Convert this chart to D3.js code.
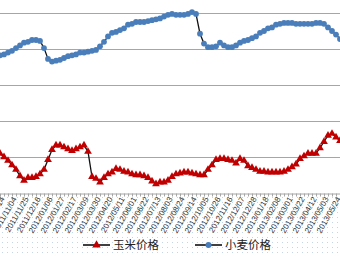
<!DOCTYPE html>
<html>
<head>
<meta charset="utf-8">
<script src="https://cdn.jsdelivr.net/npm/d3@7"></script>
<style>
  body { margin: 0; background: #fff; }
  svg { display: block; }
</style>
</head>
<body>
<div id="chart"></div>
<script>
const width = 340, height = 278;

// 小麦价格 (weekly)
const wheat = [2165, 2170, 2180, 2190, 2205, 2220, 2235, 2240, 2250, 2250, 2245, 2205, 2145, 2130, 2135, 2140,
  2150, 2160, 2165, 2170, 2180, 2180, 2185, 2190, 2195, 2215, 2240, 2270, 2290, 2295, 2305, 2315,
  2335, 2340, 2350, 2350, 2350, 2355, 2360, 2365, 2370, 2380, 2390, 2395, 2390, 2390, 2390, 2395,
  2405, 2395, 2285, 2230, 2210, 2210, 2215, 2235, 2220, 2210, 2210, 2220, 2235, 2245, 2250, 2260,
  2270, 2290, 2300, 2315, 2320, 2335, 2340, 2345, 2345, 2345, 2340, 2340, 2340, 2340, 2340, 2345,
  2345, 2340, 2320, 2300, 2280, 2255];

// 玉米价格 (weekly)
const corn = [1620, 1600, 1580, 1555, 1530, 1495, 1470, 1485, 1485, 1490, 1505, 1530, 1585, 1640, 1665, 1665,
  1655, 1645, 1635, 1645, 1655, 1665, 1630, 1490, 1480, 1460, 1485, 1505, 1515, 1535, 1530, 1520,
  1515, 1505, 1500, 1500, 1495, 1485, 1465, 1450, 1460, 1460, 1470, 1490, 1505, 1510, 1515, 1515,
  1510, 1505, 1500, 1500, 1530, 1555, 1585, 1590, 1590, 1585, 1580, 1565, 1590, 1580, 1550, 1540,
  1530, 1520, 1520, 1515, 1515, 1515, 1515, 1520, 1530, 1545, 1560, 1590, 1605, 1620, 1620, 1620,
  1650, 1685, 1720, 1730, 1710, 1690];

// x-axis labels, one every 3 weeks
const tickLabels = ['2011/10/14', '2011/11/04', '2011/11/25', '2011/12/16', '2012/01/06', '2012/01/27',
  '2012/02/17', '2012/03/09', '2012/03/30', '2012/04/20', '2012/05/11', '2012/06/01', '2012/06/22',
  '2012/07/13', '2012/08/03', '2012/08/24', '2012/09/14', '2012/10/05', '2012/10/26', '2012/11/16',
  '2012/12/07', '2012/12/28', '2013/01/18', '2013/02/08', '2013/03/01', '2013/03/22', '2013/04/12',
  '2013/05/03', '2013/05/24'];
const labelStep = 3;

const gridValues = [1400, 1600, 1800, 2000, 2200, 2400];

const svg = d3.select('#chart').append('svg')
    .attr('width', width)
    .attr('height', height);

// dotted background under the labels
const defs = svg.append('defs');
defs.append('pattern')
    .attr('id', 'dots')
    .attr('width', 5).attr('height', 5)
    .attr('patternUnits', 'userSpaceOnUse')
  .append('rect')
    .attr('x', 2).attr('y', 2).attr('width', 1).attr('height', 1)
    .attr('fill', '#a9c2e2');
svg.append('rect')
    .attr('x', 0).attr('y', 196).attr('width', width).attr('height', 58)
    .attr('fill', 'url(#dots)')
    .attr('opacity', 0.7);

const idx = d3.range(wheat.length);

const x = d3.scalePoint()
    .domain(idx)
    .range([0, 340]);

const y = d3.scaleLinear()
    .domain([1400, 2600])
    .range([193, -23]);

// gridlines
svg.append('g')
  .selectAll('line').data(gridValues.slice(1)).enter().append('line')
    .attr('x1', 0).attr('x2', width)
    .attr('y1', d => y(d) + 0.5).attr('y2', d => y(d) + 0.5)
    .attr('stroke', '#a6a6a6')
    .attr('stroke-width', 1.2);

// x axis
const xAxis = svg.append('g')
    .attr('transform', `translate(0, ${y(1400) + 0.5})`)
    .call(d3.axisBottom(x).tickSize(3).tickFormat(''));
xAxis.select('.domain').attr('stroke', '#a6a6a6');
xAxis.selectAll('.tick line').attr('stroke', '#a6a6a6');

svg.append('g')
  .selectAll('text').data(tickLabels).enter().append('text')
    .attr('transform', (d, i) => `translate(${x(i * labelStep) + 5}, 199) rotate(-60)`)
    .attr('text-anchor', 'end')
    .attr('font-family', 'Liberation Sans, Arial, sans-serif')
    .attr('font-size', '8px')
    .attr('fill', '#333')
    .text(d => d);

const line = d3.line()
    .x((d, i) => x(i))
    .y(d => y(d));

const triangle = d3.symbol().type(d3.symbolTriangle).size(26);

function drawSeries(data, marker) {
  svg.append('path')
      .datum(data)
      .attr('d', line)
      .attr('fill', 'none')
      .attr('stroke', '#111')
      .attr('stroke-width', 1.3);

  const g = svg.append('g');
  if (marker === 'triangle') {
    g.selectAll('path').data(data).enter().append('path')
        .attr('d', triangle)
        .attr('transform', (d, i) => `translate(${x(i)}, ${y(d)})`)
        .attr('fill', '#c00000');
  } else {
    g.selectAll('circle').data(data).enter().append('circle')
        .attr('cx', (d, i) => x(i))
        .attr('cy', d => y(d))
        .attr('r', 2.9)
        .attr('fill', '#4a7ebb');
  }
}

drawSeries(wheat, 'circle');
drawSeries(corn, 'triangle');

// legend
const legend = [
  { name: '玉米价格', marker: 'triangle', x: 83 },
  { name: '小麦价格', marker: 'circle', x: 195 }
];
const lg = svg.append('g').attr('transform', 'translate(0, 245)');
legend.forEach(l => {
  lg.append('line')
      .attr('x1', l.x).attr('x2', l.x + 27)
      .attr('stroke', '#111').attr('stroke-width', 1.6);
  if (l.marker === 'triangle') {
    lg.append('path')
        .attr('d', d3.symbol().type(d3.symbolTriangle).size(30))
        .attr('transform', `translate(${l.x + 13.5}, 0)`)
        .attr('fill', '#c00000');
  } else {
    lg.append('circle')
        .attr('cx', l.x + 13.5).attr('r', 3)
        .attr('fill', '#4a7ebb');
  }
  lg.append('text')
      .attr('x', l.x + 30).attr('y', 4)
      .attr('font-family', 'Noto Sans CJK SC, sans-serif')
      .attr('font-size', '11.5px')
      .attr('fill', '#222')
      .text(l.name);
});
</script>
</body>
</html>
